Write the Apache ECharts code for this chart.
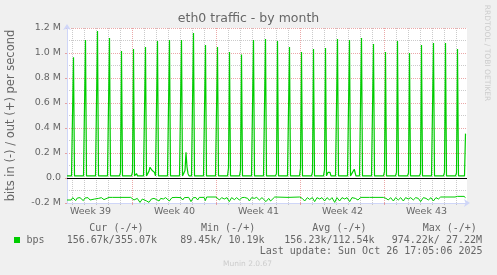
<!DOCTYPE html>
<html><head><meta charset="utf-8">
<script src="https://cdn.jsdelivr.net/npm/echarts@6/dist/echarts.min.js"></script>
<style>html,body{margin:0;padding:0;background:#f0f0f0}#c{width:497px;height:275px}</style>
</head><body><div id="c"></div>
<script>
// time axis in days relative to Mon Sep 29 2025 00:00 (start of week 40)
const xMin = -5.458, xMax = 27.875;
const weekStarts = [0, 7, 14, 21];
const weekMid = [-3.5, 3.5, 10.5, 17.5, 24.5];
const weekLabels = ['Week 39', 'Week 40', 'Week 41', 'Week 42', 'Week 43'];
const yTicks = [-200, 0, 200, 400, 600, 800, 1000, 1200];

// out (+) traffic, k bits/s: daily backup spikes, first spike day = -5 (Sep 24)
const firstSpikeDay = -5;
const outBase = 17;
const outPeak = [965, 1104, 1176, 1120, 1016, 1032, 1048, 1096, 1104, 1104, 1160, 1064, 1048, 1008, 987,
  1104, 1112, 1096, 1048, 1008, 1032, 1040, 1112, 1104, 1120, 1072, 1008, 1096, 1000, 1064, 1080, 1080, 1032];
const outPre = [17, 17, 30, 17, 45, 48, 17, 17, 17, 17, 17, 17, 17, 80, 64,
  17, 17, 37, 17, 77, 48, 64, 17, 17, 17, 17, 51, 45, 40, 40, 17, 45, 40];
const outBumps = [[0.25, 17], [0.33, 35], [0.42, 17],
  [1.25, 17], [1.375, 55], [1.46, 86], [1.54, 75], [1.625, 62], [1.75, 55], [1.83, 45], [1.92, 17],
  [4.29, 17], [4.375, 60], [4.46, 205], [4.54, 90], [4.625, 35], [4.71, 17],
  [16.21, 17], [16.29, 45], [16.46, 45], [16.54, 17],
  [18.33, 17], [18.48, 70], [18.62, 17]];
const outTail = [[27.667, 17], [27.75, 355]];

// in (-) traffic, k bits/s (plotted negative)
const inPoints = [[-5.458, -176], [-5.10, -176], [-4.98, -157], [-4.85, -163], [-4.74, -181], [-4.60, -160], [-4.375, -157],
  [-4.24, -165], [-4.10, -181], [-3.96, -160], [-3.71, -157], [-3.54, -176], [-3.375, -163], [-3.15, -168], [-2.99, -181],
  [-2.82, -163], [-2.60, -157], [-2.375, -173], [-2.21, -157], [-1.96, -155], [-1.82, -163], [-1.68, -155], [-0.15, -155],
  [-0.01, -157], [0.125, -176], [0.26, -189], [0.40, -163], [0.625, -195], [0.82, -168], [0.96, -163], [1.18, -184],
  [1.375, -195], [1.57, -168], [1.79, -163], [2.01, -173], [2.21, -184], [2.35, -163], [2.57, -168], [2.76, -157],
  [2.85, -163], [3.07, -184], [3.29, -157], [3.625, -155], [4.04, -157], [4.18, -176], [4.32, -157], [4.68, -155],
  [4.875, -189], [5.07, -157], [5.29, -157], [5.43, -176], [5.57, -155], [5.96, -155], [6.07, -181], [6.18, -152],
  [6.96, -152], [7.04, -157], [7.24, -176], [7.43, -157], [7.65, -168], [7.875, -157], [8.07, -189], [8.26, -157],
  [8.49, -173], [8.68, -157], [8.9, -176], [9.125, -157], [9.32, -155], [9.6, -163], [9.74, -184], [9.93, -157],
  [10.15, -163], [10.35, -155], [10.57, -176], [10.79, -157], [11.125, -189], [11.35, -163], [11.51, -184], [11.85, -152],
  [12.96, -155], [13.04, -168], [13.125, -152], [13.93, -152], [14.15, -163], [14.35, -184], [14.57, -157], [14.76, -171],
  [14.99, -157], [15.18, -189], [15.375, -157], [15.6, -168], [15.79, -157], [16.01, -184], [16.21, -157], [16.43, -176],
  [16.625, -157], [16.85, -195], [17.04, -157], [17.26, -184], [17.46, -157], [17.68, -168], [17.875, -157], [18.1, -189],
  [18.29, -157], [18.57, -163], [18.79, -176], [19.01, -155], [19.76, -155], [19.9, -166], [20.21, -155], [20.9, -155],
  [21.125, -163], [21.32, -176], [21.51, -157], [21.74, -184], [21.93, -157], [22.15, -176], [22.35, -157], [22.57, -184],
  [22.76, -157], [22.99, -168], [23.18, -157], [23.4, -176], [23.6, -157], [23.82, -163], [24.01, -189], [24.24, -157],
  [24.46, -163], [24.65, -176], [24.875, -157], [25.07, -184], [25.29, -157], [25.49, -168], [25.68, -152], [26.875, -152],
  [26.96, -163], [27.07, -147], [27.625, -147], [27.75, -157]];

const legendHeaders = ['Cur (-/+)', 'Min (-/+)', 'Avg (-/+)', 'Max (-/+)'];
const legendValues = ['156.67k/355.07k', '89.45k/ 10.19k', '156.23k/112.54k', '974.22k/ 27.22M'];
const lastUpdate = 'Last update: Sun Oct 26 17:05:06 2025';

// ---- build series data ----
const outPts = [[xMin, outBase]];
outPeak.forEach((p, i) => {
  const d = firstSpikeDay + i;
  outPts.push([d - 1 / 12, outBase], [d, outPre[i]], [d + 1 / 12, p], [d + 2 / 12, outBase]);
});
outBumps.forEach(p => outPts.push(p));
outTail.forEach(p => outPts.push(p));
outPts.sort((a, b) => a[0] - b[0]);

// daily (minor) vertical grid lines at midnights, excluding week starts
const dayLines = [];
for (let d = Math.ceil(xMin); d <= Math.floor(xMax); d++) if (weekStarts.indexOf(d) < 0) dayLines.push([d]);

const RED = 'rgba(222,110,110,0.6)';
const GRAY = 'rgba(160,160,160,0.55)';
const AXIS = '#CFD6F8';
const FONT = '#666666';
const SANS = '"DejaVu Sans"';
const MONO = '"DejaVu Sans Mono"';

const headerX = [89.3, 201, 312.3, 422.7];
const valueX = [66.7, 180.3, 284.3, 391.7];
const graphics = [];
legendHeaders.forEach((t, i) => graphics.push({type: 'text', x: headerX[i], y: 228,
  style: {text: t, fill: FONT, font: '10px ' + MONO, align: 'left', verticalAlign: 'middle'}}));
legendValues.forEach((t, i) => graphics.push({type: 'text', x: valueX[i], y: 240,
  style: {text: t, fill: FONT, font: '10px ' + MONO, align: 'left', verticalAlign: 'middle'}}));
graphics.push({type: 'rect', shape: {x: 14, y: 237, width: 6, height: 6}, style: {fill: '#00cc00'}});
graphics.push({type: 'text', x: 26.5, y: 240, style: {text: 'bps', fill: FONT, font: '10px ' + MONO, align: 'left', verticalAlign: 'middle'}});
graphics.push({type: 'text', x: 482.5, y: 251.5, style: {text: lastUpdate, fill: FONT, font: '10px ' + MONO, align: 'right', verticalAlign: 'middle'}});
graphics.push({type: 'text', x: 247.5, y: 264, style: {text: 'Munin 2.0.67', fill: '#cccccc', font: '7.5px ' + SANS, align: 'center', verticalAlign: 'middle'}});
graphics.push({type: 'text', x: 487, y: 53, rotation: -Math.PI / 2,
  style: {text: 'RRDTOOL / TOBI OETIKER', fill: '#cccccc', font: '7.5px ' + SANS, align: 'center', verticalAlign: 'middle'}});

const option = {
  animation: false,
  backgroundColor: '#f0f0f0',
  title: {text: 'eth0 traffic - by month', left: 'center', top: 12, padding: 0,
    textStyle: {fontSize: 12.5, fontWeight: 'normal', color: FONT, fontFamily: SANS}},
  grid: {left: 67, top: 28, width: 400, height: 175, show: true, backgroundColor: '#ffffff', borderWidth: 0,
    containLabel: false, outerBoundsMode: 'none'},
  xAxis: [
    {type: 'value', min: xMin, max: xMax, position: 'bottom',
      axisLine: {show: true, onZero: false, lineStyle: {color: AXIS}, symbol: ['none', 'arrow'], symbolSize: [6, 6], symbolOffset: [0, 3]},
      axisTick: {show: true, length: 2, customValues: weekStarts, lineStyle: {color: RED}},
      splitLine: {show: true, lineStyle: {color: RED, type: [1, 1]}},
      axisLabel: {show: true, customValues: weekMid, margin: 4, fontSize: 9.5, color: FONT, fontFamily: SANS,
        formatter: v => weekLabels[weekMid.indexOf(v)]}}
  ],
  yAxis: {type: 'value', min: yTicks[0], max: yTicks[yTicks.length - 1], interval: 200,
    name: 'bits in (-) / out (+) per second', nameLocation: 'middle', nameGap: 50,
    nameTextStyle: {fontSize: 11.5, color: FONT, fontFamily: SANS},
    axisLine: {show: true, onZero: false, lineStyle: {color: AXIS}, symbol: ['none', 'arrow'], symbolSize: [6, 6], symbolOffset: [0, 4]},
    axisTick: {show: true, length: 2, lineStyle: {color: RED}},
    minorTick: {show: false, splitNumber: 2},
    minorSplitLine: {show: true, lineStyle: {color: GRAY, type: [1, 1]}},
    splitLine: {show: true, lineStyle: {color: RED, type: [1, 1]}},
    axisLabel: {margin: 6, fontSize: 9.5, color: FONT, fontFamily: SANS,
      formatter: v => v === 0 ? '0.0' : (v / 1000).toFixed(1) + ' M'}},
  series: [
    {name: 'daygrid', type: 'custom', data: dayLines, z: 1, silent: true, clip: false,
      encode: {x: 0},
      renderItem: (params, api) => {
        const top = api.coord([api.value(0), yTicks[yTicks.length - 1]]);
        const bot = api.coord([api.value(0), yTicks[0]]);
        const x = Math.round(top[0]) + 0.5;
        return {type: 'line', shape: {x1: x, y1: top[1], x2: x, y2: bot[1] + 2},
          style: {stroke: GRAY, lineWidth: 1, lineDash: [1, 1]}};
      }},
    {name: 'out', type: 'line', data: outPts, showSymbol: false, symbol: 'none',
      lineStyle: {width: 1.2, color: '#00cc00'}, itemStyle: {color: '#00cc00'}, z: 3,
      markLine: {silent: true, symbol: 'none', label: {show: false}, lineStyle: {color: '#000', width: 1, type: 'solid'},
        data: [{yAxis: 0}]}},
    {name: 'in', type: 'line', data: inPoints, showSymbol: false, symbol: 'none',
      lineStyle: {width: 1, color: '#00cc00'}, itemStyle: {color: '#00cc00'}, z: 3}
  ],
  graphic: graphics
};
const chart = echarts.init(document.getElementById('c'), null, {renderer: 'canvas'});
chart.setOption(option);
</script></body></html>
